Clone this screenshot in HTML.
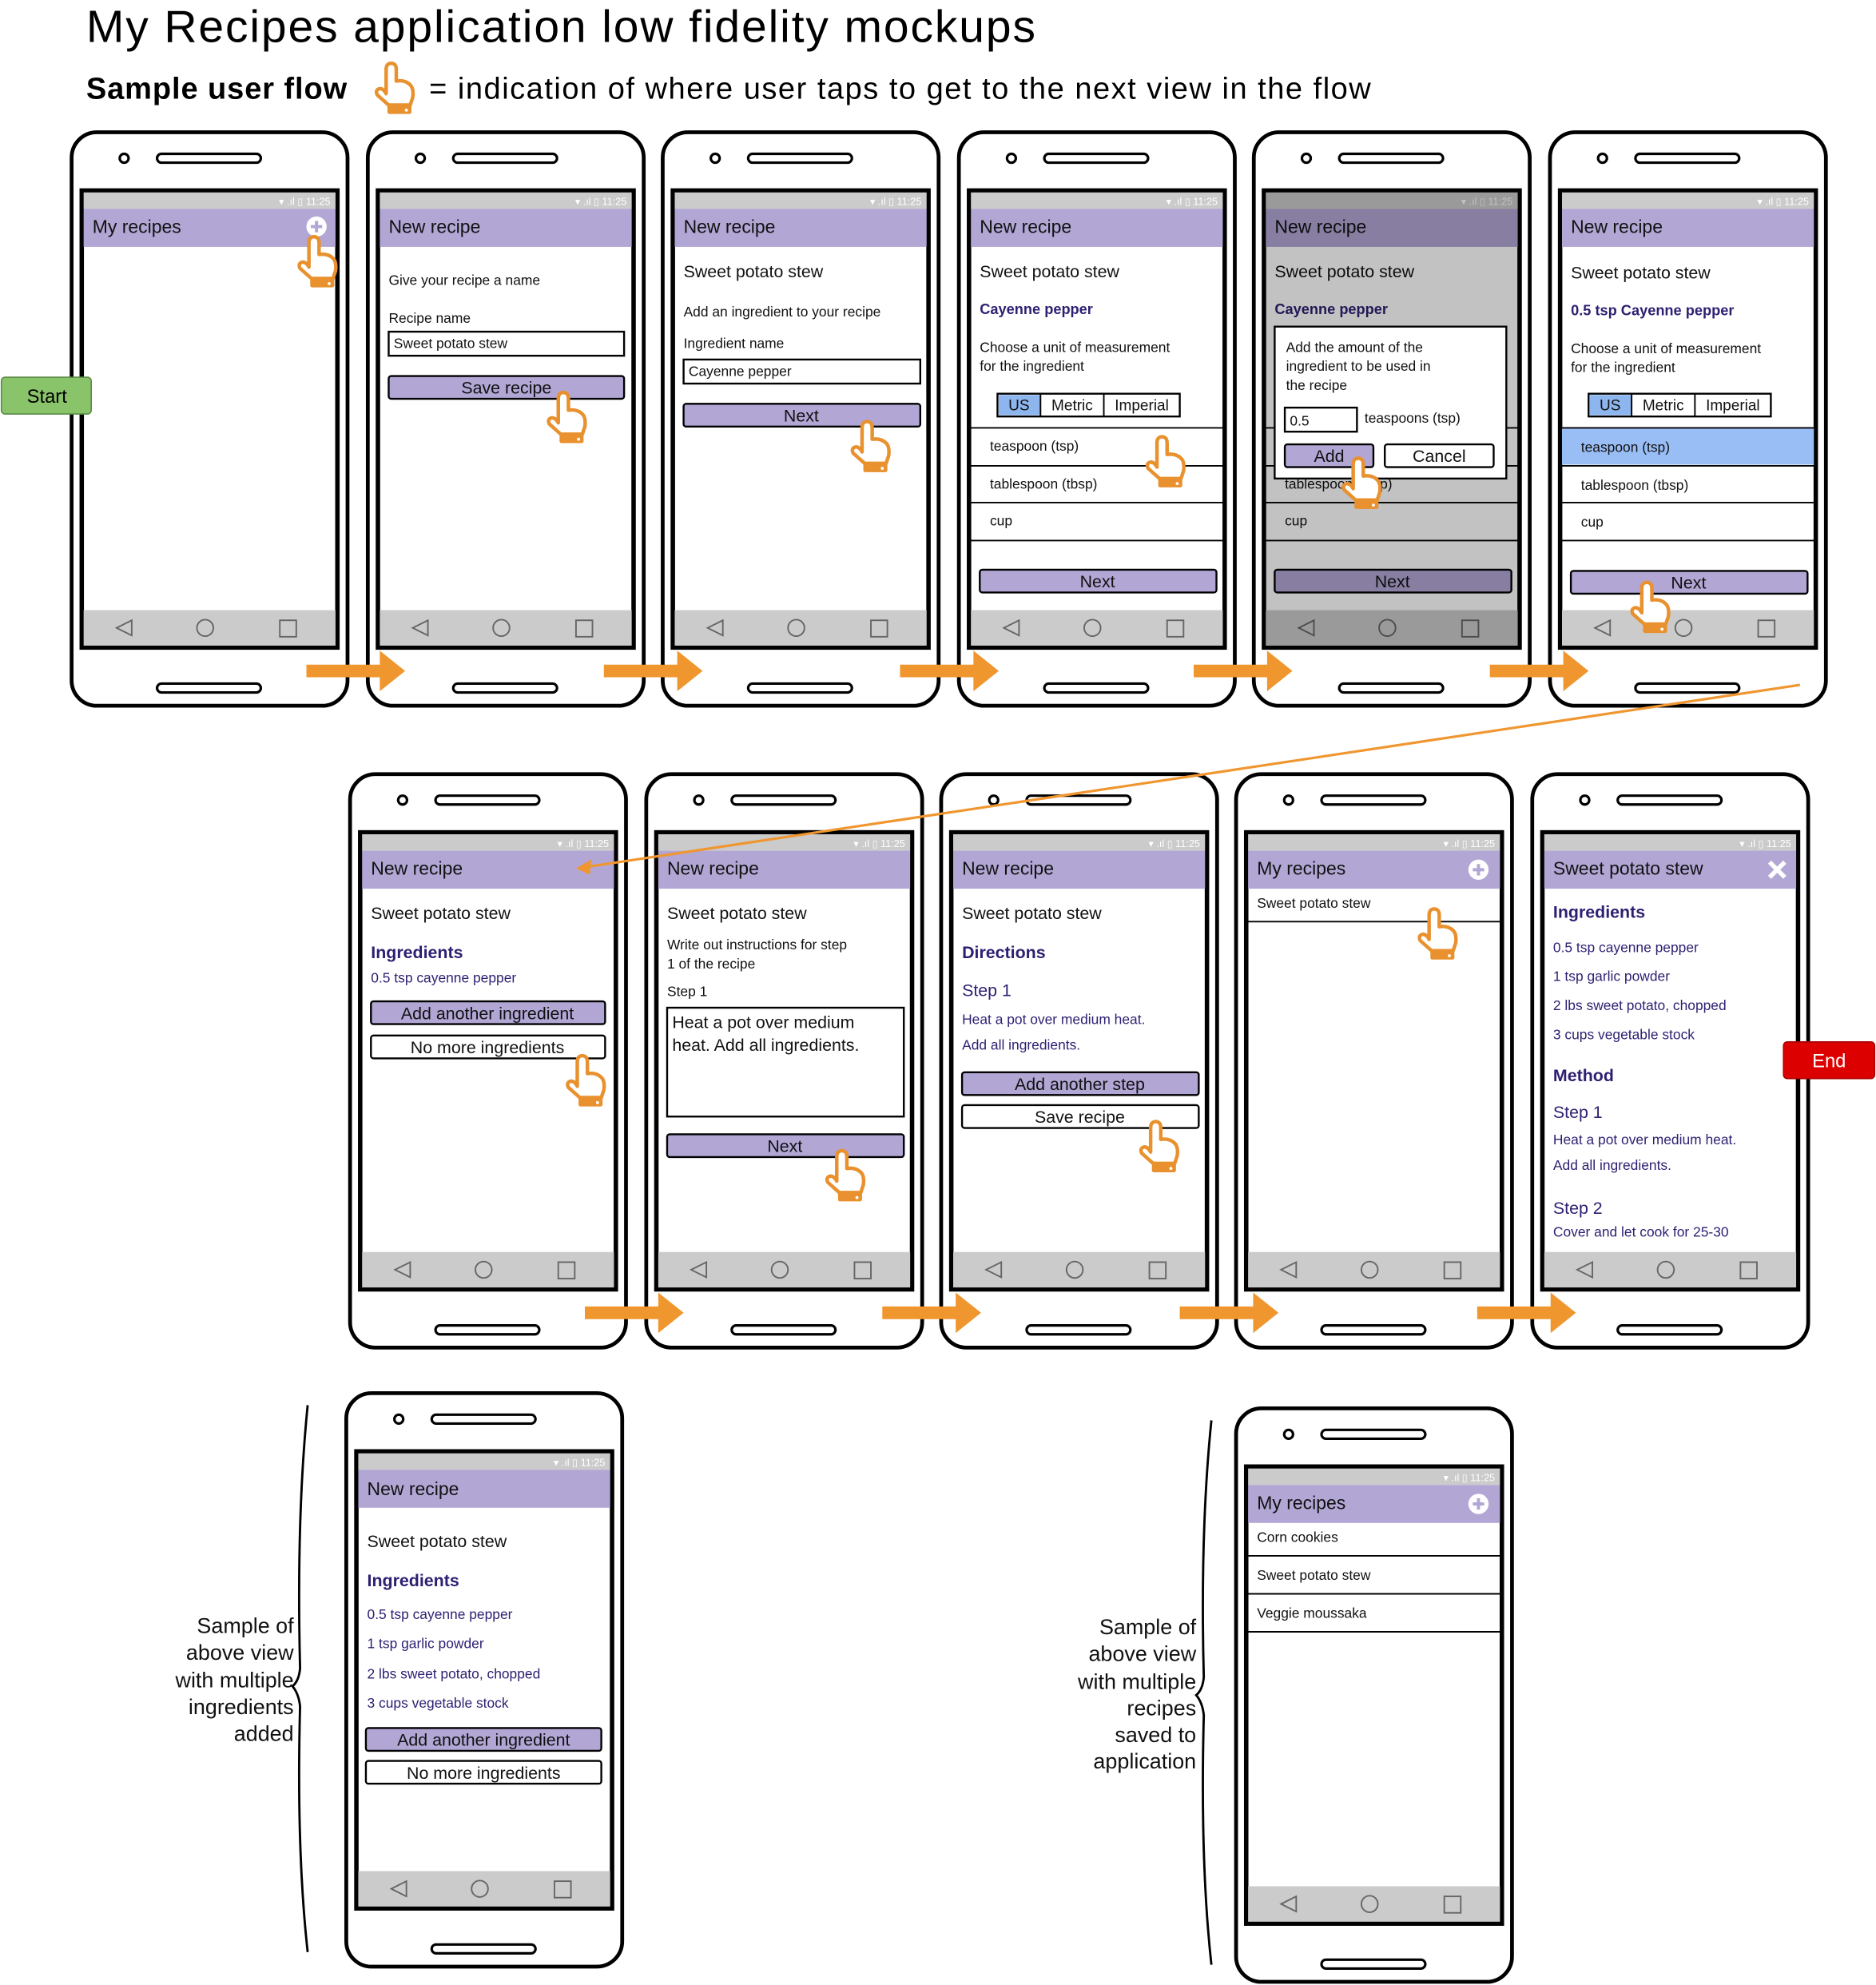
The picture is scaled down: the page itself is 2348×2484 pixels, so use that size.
<!DOCTYPE html>
<html><head><meta charset="utf-8"><style>
html,body{margin:0;padding:0;background:#fff;}
svg{display:block;}
text{font-family:"Liberation Sans",sans-serif;}
.t{font-size:14.5px;fill:#111;}
.h{font-size:13.5px;fill:#111;}
.s{font-size:11px;fill:#111;}
.b{font-size:11px;fill:#2e1f72;}
.bb{font-size:13.5px;fill:#2e1f72;font-weight:bold;}
.bbs{font-size:11.5px;fill:#2e1f72;font-weight:bold;}
.bt{font-size:13.5px;fill:#111;text-anchor:middle;}
.a{font-size:17px;fill:#111;text-anchor:end;}
</style></head><body>
<svg width="2348" height="2484" viewBox="0 0 1482 1568" xmlns="http://www.w3.org/2000/svg">
<defs>
<g id="frame">
  <rect x="1.5" y="1.5" width="218" height="453" rx="20" fill="#fff" stroke="#000" stroke-width="3"/>
  <circle cx="43" cy="22" r="3.5" fill="none" stroke="#000" stroke-width="2"/>
  <rect x="69" y="18.5" width="82" height="7" rx="3.5" fill="none" stroke="#000" stroke-width="2"/>
  <rect x="69" y="437" width="82" height="7" rx="3.5" fill="none" stroke="#000" stroke-width="2"/>
  <rect x="9.5" y="47.5" width="202" height="361" fill="#fff" stroke="#000" stroke-width="3.5"/>
  <rect x="11" y="49" width="199" height="13" fill="#cbcbcb"/>
  <text x="206" y="59" style="font-size:8px;fill:#fff;text-anchor:end">▾ .ıl ▯ 11:25</text>
  <rect x="11" y="62" width="199" height="30" fill="#b2a6d5"/>
  <rect x="11" y="379" width="199" height="28" fill="#cbcbcb"/>
  <path d="M49,387 L37,393 L49,399 Z" fill="none" stroke="#666" stroke-width="1.2"/>
  <circle cx="107" cy="393" r="6.5" fill="none" stroke="#666" stroke-width="1.2"/>
  <rect x="166" y="387" width="13" height="13" fill="none" stroke="#666" stroke-width="1.2"/>
</g>
<g id="hand">
  <path d="M9,24 L9,5 Q9,0 13,0 Q17,0 17,5 L17,14 Q24,13 28,17 Q31,20 30,27 L28,33 L11,33 L2,25 Q0,21 4,20 Q7,20 9,24 Z" fill="#fff" stroke="#e8912e" stroke-width="2.8" stroke-linejoin="round"/>
  <rect x="10" y="32" width="19" height="8" rx="1.5" fill="#e8912e"/>
  <circle cx="25" cy="37" r="1.2" fill="#fff"/>
</g>
<g id="arrow"><path d="M0,-5 L58,-5 L58,-16 L78,0 L58,16 L58,5 L0,5 Z" fill="#f0962f"/></g>
<g id="plus"><circle cx="0" cy="0" r="8" fill="#fff"/><path d="M-4.5,0 H4.5 M0,-4.5 V4.5" stroke="#b2a6d5" stroke-width="2.5"/></g>
</defs>

<!-- header -->
<text x="68" y="33" style="font-size:36px" textLength="750">My Recipes application low fidelity mockups</text>
<text x="68" y="78" style="font-size:24px;font-weight:bold" textLength="206">Sample user flow</text>
<use href="#hand" transform="translate(296,50)"/>
<text x="339" y="78" style="font-size:24px" textLength="744">= indication of where user taps to get to the next view in the flow</text>

<!-- ROW 1 -->
<g transform="translate(55,103)"><use href="#frame"/>
 <text class="t" x="18" y="81">My recipes</text><use href="#plus" transform="translate(195,76)"/>
 <use href="#hand" transform="translate(180,84)"/>
</g>
<g transform="translate(289,103)"><use href="#frame"/>
 <text class="t" x="18" y="81">New recipe</text>
 <text class="s" x="18" y="122">Give your recipe a name</text>
 <text class="s" x="18" y="152">Recipe name</text>
 <rect x="18" y="159" width="186" height="19" fill="#fff" stroke="#000" stroke-width="1.5"/>
 <text class="s" x="22" y="172">Sweet potato stew</text>
 <rect x="18" y="194" width="186" height="18" rx="2" fill="#b2a6d5" stroke="#000" stroke-width="1.5"/>
 <text class="bt" x="111" y="208">Save recipe</text>
 <use href="#hand" transform="translate(143,207)"/>
</g>
<g transform="translate(522,103)"><use href="#frame"/>
 <text class="t" x="18" y="81">New recipe</text>
 <text class="h" x="18" y="116">Sweet potato stew</text>
 <text class="s" x="18" y="147">Add an ingredient to your recipe</text>
 <text class="s" x="18" y="172">Ingredient name</text>
 <rect x="18" y="181" width="187" height="19" fill="#fff" stroke="#000" stroke-width="1.5"/>
 <text class="s" x="22" y="194">Cayenne pepper</text>
 <rect x="18" y="216" width="187" height="18" rx="2" fill="#b2a6d5" stroke="#000" stroke-width="1.5"/>
 <text class="bt" x="111" y="230">Next</text>
 <use href="#hand" transform="translate(150,230)"/>
</g>
<g transform="translate(756,103)"><use href="#frame"/>
 <text class="t" x="18" y="81">New recipe</text>
 <text class="h" x="18" y="116">Sweet potato stew</text>
 <text class="bbs" x="18" y="145">Cayenne pepper</text>
 <text class="s" x="18" y="175">Choose a unit of measurement</text>
 <text class="s" x="18" y="190">for the ingredient</text>
 <rect x="32" y="208" width="144" height="18" fill="#fff" stroke="#000" stroke-width="1.5"/>
 <rect x="33" y="209" width="33" height="16" fill="#8db6ef"/>
 <path d="M66,208 V226 M116,208 V226" stroke="#000" stroke-width="1.2"/>
 <text class="s" x="49" y="221" style="text-anchor:middle;font-size:12px">US</text>
 <text class="s" x="91" y="221" style="text-anchor:middle;font-size:12px">Metric</text>
 <text class="s" x="146" y="221" style="text-anchor:middle;font-size:12px">Imperial</text>
 <path d="M11,235 H210 M11,265 H210 M11,294 H210 M11,324 H210" stroke="#000" stroke-width="1.2"/>
 <text class="s" x="26" y="253">teaspoon (tsp)</text>
 <text class="s" x="26" y="283">tablespoon (tbsp)</text>
 <text class="s" x="26" y="312">cup</text>
 <rect x="18" y="347" width="187" height="18" rx="2" fill="#b2a6d5" stroke="#000" stroke-width="1.5"/>
 <text class="bt" x="111" y="361">Next</text>
 <use href="#hand" transform="translate(149,242)"/>
</g>
<g transform="translate(989,103)"><use href="#frame"/>
 <text class="t" x="18" y="81">New recipe</text>
 <text class="h" x="18" y="116">Sweet potato stew</text>
 <text class="bbs" x="18" y="145">Cayenne pepper</text>
 <path d="M11,235 H210 M11,265 H210 M11,294 H210 M11,324 H210" stroke="#000" stroke-width="1.2"/>
 <text class="s" x="26" y="283">tablespoon (tbsp)</text>
 <text class="s" x="26" y="312">cup</text>
 <rect x="18" y="347" width="187" height="18" rx="2" fill="#b2a6d5" stroke="#000" stroke-width="1.5"/>
 <text class="bt" x="111" y="361">Next</text>
 <rect x="11" y="49" width="199" height="358" fill="#000" opacity="0.24"/>
 <rect x="18" y="155" width="183" height="120" fill="#fff" stroke="#000" stroke-width="1.5"/>
 <text class="s" x="27" y="175">Add the amount of the</text>
 <text class="s" x="27" y="190">ingredient to be used in</text>
 <text class="s" x="27" y="205">the recipe</text>
 <rect x="26" y="219" width="57" height="19" fill="#fff" stroke="#000" stroke-width="1.5"/>
 <text class="s" x="30" y="233">0.5</text>
 <text class="s" x="89" y="231">teaspoons (tsp)</text>
 <rect x="26" y="248" width="70" height="18" rx="2" fill="#b2a6d5" stroke="#000" stroke-width="1.5"/>
 <text class="bt" x="61" y="262">Add</text>
 <rect x="105" y="248" width="86" height="18" rx="2" fill="#fff" stroke="#000" stroke-width="1.5"/>
 <text class="bt" x="148" y="262">Cancel</text>
 <use href="#hand" transform="translate(71,259)"/>
</g>
<g transform="translate(1223,103)"><use href="#frame"/>
 <text class="t" x="18" y="81">New recipe</text>
 <text class="h" x="18" y="117">Sweet potato stew</text>
 <text class="bbs" x="18" y="146">0.5 tsp Cayenne pepper</text>
 <text class="s" x="18" y="176">Choose a unit of measurement</text>
 <text class="s" x="18" y="191">for the ingredient</text>
 <rect x="32" y="208" width="144" height="18" fill="#fff" stroke="#000" stroke-width="1.5"/>
 <rect x="33" y="209" width="33" height="16" fill="#8db6ef"/>
 <path d="M66,208 V226 M116,208 V226" stroke="#000" stroke-width="1.2"/>
 <text class="s" x="49" y="221" style="text-anchor:middle;font-size:12px">US</text>
 <text class="s" x="91" y="221" style="text-anchor:middle;font-size:12px">Metric</text>
 <text class="s" x="146" y="221" style="text-anchor:middle;font-size:12px">Imperial</text>
 <rect x="11" y="235" width="199" height="29" fill="#99bdf5"/>
 <path d="M11,235 H210 M11,265 H210 M11,294 H210 M11,324 H210" stroke="#000" stroke-width="1.2"/>
 <text class="s" x="26" y="254">teaspoon (tsp)</text>
 <text class="s" x="26" y="284">tablespoon (tbsp)</text>
 <text class="s" x="26" y="313">cup</text>
 <rect x="18" y="348" width="187" height="18" rx="2" fill="#b2a6d5" stroke="#000" stroke-width="1.5"/>
 <text class="bt" x="111" y="362">Next</text>
 <use href="#hand" transform="translate(65,357)"/>
</g>
<use href="#arrow" transform="translate(242,530)"/>
<use href="#arrow" transform="translate(477,530)"/>
<use href="#arrow" transform="translate(711,530)"/>
<use href="#arrow" transform="translate(943,530)"/>
<use href="#arrow" transform="translate(1177,530)"/>

<!-- ROW 2 -->
<g transform="translate(275,610)"><use href="#frame"/>
 <text class="t" x="18" y="81">New recipe</text>
 <text class="h" x="18" y="116">Sweet potato stew</text>
 <text class="bb" x="18" y="147">Ingredients</text>
 <text class="b" x="18" y="166">0.5 tsp cayenne pepper</text>
 <rect x="18" y="181" width="185" height="18" rx="2" fill="#b2a6d5" stroke="#000" stroke-width="1.5"/>
 <text class="bt" x="110" y="195">Add another ingredient</text>
 <rect x="18" y="208" width="185" height="18" rx="2" fill="#fff" stroke="#000" stroke-width="1.5"/>
 <text class="bt" x="110" y="222">No more ingredients</text>
 <use href="#hand" transform="translate(172,224)"/>
</g>
<g transform="translate(509,610)"><use href="#frame"/>
 <text class="t" x="18" y="81">New recipe</text>
 <text class="h" x="18" y="116">Sweet potato stew</text>
 <text class="s" x="18" y="140">Write out instructions for step</text>
 <text class="s" x="18" y="155">1 of the recipe</text>
 <text class="s" x="18" y="177">Step 1</text>
 <rect x="18" y="186" width="187" height="86" fill="#fff" stroke="#000" stroke-width="1.5"/>
 <text class="h" x="22" y="202">Heat a pot over medium</text>
 <text class="h" x="22" y="220">heat. Add all ingredients.</text>
 <rect x="18" y="286" width="187" height="18" rx="2" fill="#b2a6d5" stroke="#000" stroke-width="1.5"/>
 <text class="bt" x="111" y="300">Next</text>
 <use href="#hand" transform="translate(143,299)"/>
</g>
<g transform="translate(742,610)"><use href="#frame"/>
 <text class="t" x="18" y="81">New recipe</text>
 <text class="h" x="18" y="116">Sweet potato stew</text>
 <text class="bb" x="18" y="147">Directions</text>
 <text class="b" x="18" y="177" style="font-size:13.5px">Step 1</text>
 <text class="b" x="18" y="199">Heat a pot over medium heat.</text>
 <text class="b" x="18" y="219">Add all ingredients.</text>
 <rect x="18" y="237" width="187" height="18" rx="2" fill="#b2a6d5" stroke="#000" stroke-width="1.5"/>
 <text class="bt" x="111" y="251">Add another step</text>
 <rect x="18" y="263" width="187" height="18" rx="2" fill="#fff" stroke="#000" stroke-width="1.5"/>
 <text class="bt" x="111" y="277">Save recipe</text>
 <use href="#hand" transform="translate(158,276)"/>
</g>
<g transform="translate(975,610)"><use href="#frame"/>
 <text class="t" x="18" y="81">My recipes</text><use href="#plus" transform="translate(193,77)"/>
 <text class="s" x="18" y="107">Sweet potato stew</text>
 <path d="M11,118 H210" stroke="#000" stroke-width="1.2"/>
 <use href="#hand" transform="translate(145,108)"/>
</g>
<g transform="translate(1209,610)"><use href="#frame"/>
 <text class="t" x="18" y="81">Sweet potato stew</text>
 <path d="M189,71 L201,83 M201,71 L189,83" stroke="#fff" stroke-width="3.5"/>
 <text class="bb" x="18" y="115">Ingredients</text>
 <text class="b" x="18" y="142">0.5 tsp cayenne pepper</text>
 <text class="b" x="18" y="165">1 tsp garlic powder</text>
 <text class="b" x="18" y="188">2 lbs sweet potato, chopped</text>
 <text class="b" x="18" y="211">3 cups vegetable stock</text>
 <text class="bb" x="18" y="244">Method</text>
 <text class="b" x="18" y="273" style="font-size:13.5px">Step 1</text>
 <text class="b" x="18" y="294">Heat a pot over medium heat.</text>
 <text class="b" x="18" y="314">Add all ingredients.</text>
 <text class="b" x="18" y="349" style="font-size:13.5px">Step 2</text>
 <text class="b" x="18" y="367">Cover and let cook for 25-30</text>
</g>
<use href="#arrow" transform="translate(462,1037)"/>
<use href="#arrow" transform="translate(697,1037)"/>
<use href="#arrow" transform="translate(932,1037)"/>
<use href="#arrow" transform="translate(1167,1037)"/>

<!-- long connector -->
<path d="M1422,541 L462,685" stroke="#f0962f" stroke-width="2" fill="none"/>
<path d="M455,686 L467,679 L466,691 Z" fill="#f0962f"/>

<!-- ROW 3 -->
<g transform="translate(272,1099)"><use href="#frame"/>
 <text class="t" x="18" y="82">New recipe</text>
 <text class="h" x="18" y="123">Sweet potato stew</text>
 <text class="bb" x="18" y="154">Ingredients</text>
 <text class="b" x="18" y="180">0.5 tsp cayenne pepper</text>
 <text class="b" x="18" y="203">1 tsp garlic powder</text>
 <text class="b" x="18" y="227">2 lbs sweet potato, chopped</text>
 <text class="b" x="18" y="250">3 cups vegetable stock</text>
 <rect x="17" y="266" width="186" height="18" rx="2" fill="#b2a6d5" stroke="#000" stroke-width="1.5"/>
 <text class="bt" x="110" y="280">Add another ingredient</text>
 <rect x="17" y="292" width="186" height="18" rx="2" fill="#fff" stroke="#000" stroke-width="1.5"/>
 <text class="bt" x="110" y="306">No more ingredients</text>
</g>
<g transform="translate(975,1111)"><use href="#frame"/>
 <text class="t" x="18" y="81">My recipes</text><use href="#plus" transform="translate(193,77)"/>
 <text class="s" x="18" y="107">Corn cookies</text>
 <text class="s" x="18" y="137">Sweet potato stew</text>
 <text class="s" x="18" y="167">Veggie moussaka</text>
 <path d="M11,118 H210 M11,148 H210 M11,178 H210" stroke="#000" stroke-width="1.2"/>
</g>

<!-- Start / End (on top) -->
<rect x="1" y="298" width="71" height="29" rx="3" fill="#8ac46a" stroke="#5a8a44"/>
<text x="37" y="318" style="font-size:15px;text-anchor:middle">Start</text>
<rect x="1409" y="823" width="72" height="29" rx="3" fill="#dd0000" stroke="#a00"/>
<text x="1445" y="843" style="font-size:15px;fill:#fff;text-anchor:middle">End</text>

<!-- annotations -->
<path d="M243,1110 Q234,1200 237,1318 Q236,1328 231,1332 Q236,1338 237,1348 Q234,1460 243,1542" fill="none" stroke="#000" stroke-width="1.8"/>
<text class="a" x="232" y="1290">Sample of</text>
<text class="a" x="232" y="1311">above view</text>
<text class="a" x="232" y="1333">with multiple</text>
<text class="a" x="232" y="1354">ingredients</text>
<text class="a" x="232" y="1375">added</text>
<path d="M957,1122 Q948,1210 951,1325 Q950,1335 945,1339 Q950,1345 951,1355 Q948,1470 957,1552" fill="none" stroke="#000" stroke-width="1.8"/>
<text class="a" x="945" y="1291">Sample of</text>
<text class="a" x="945" y="1312">above view</text>
<text class="a" x="945" y="1334">with multiple</text>
<text class="a" x="945" y="1355">recipes</text>
<text class="a" x="945" y="1376">saved to</text>
<text class="a" x="945" y="1397">application</text>
</svg>
</body></html>
